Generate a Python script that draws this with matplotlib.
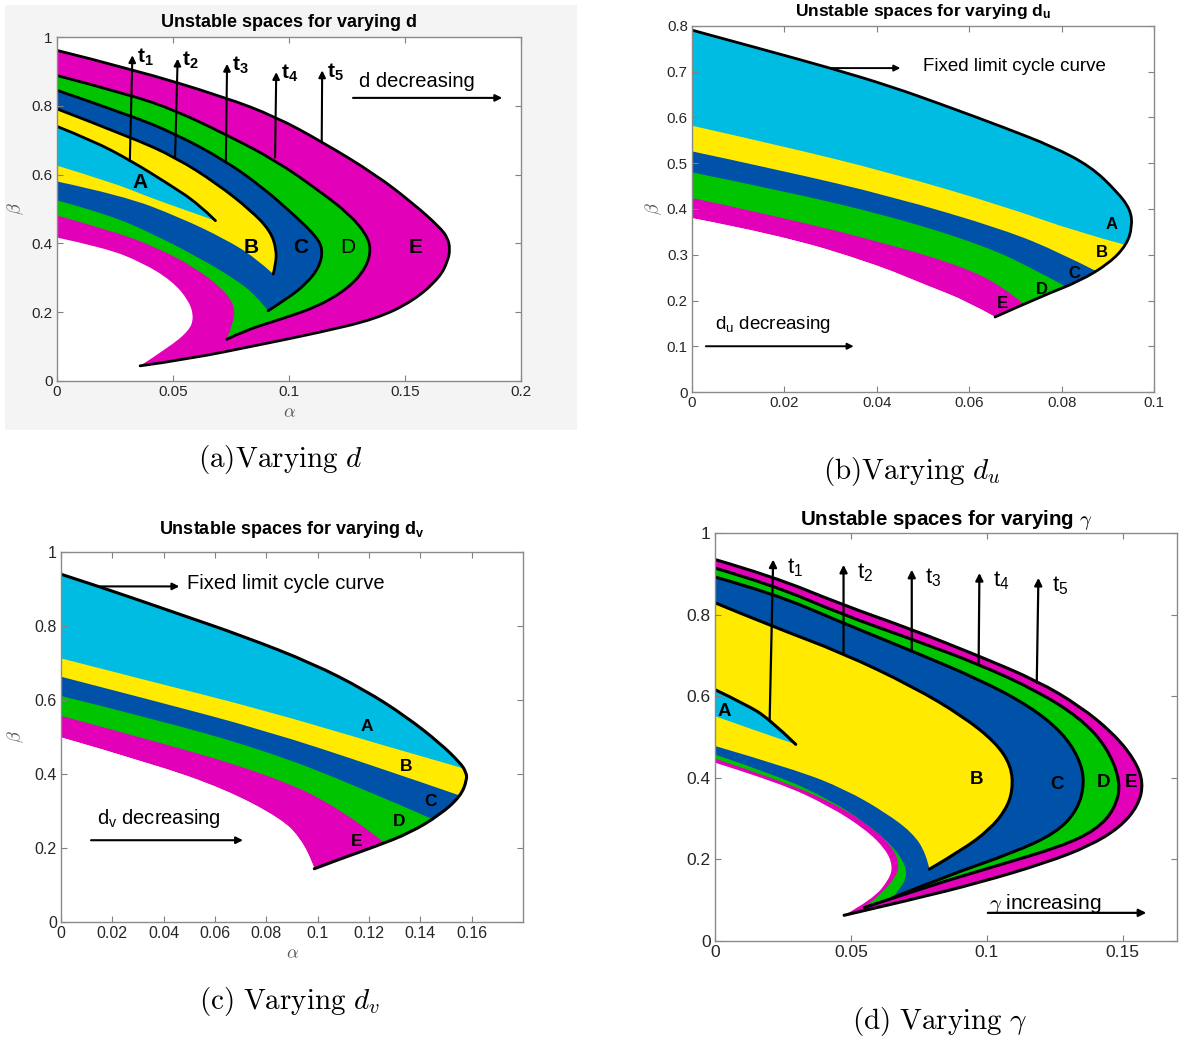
import matplotlib
matplotlib.use("Agg")
import matplotlib.pyplot as plt
from matplotlib.patches import Rectangle, PathPatch
from matplotlib.path import Path

plt.rcParams["font.family"] = ["Liberation Sans", "DejaVu Sans"]
plt.rcParams["mathtext.fontset"] = "custom"
plt.rcParams["mathtext.rm"] = "Liberation Sans"
plt.rcParams["mathtext.it"] = "Liberation Sans:italic"
plt.rcParams["mathtext.bf"] = "Liberation Sans:bold"

MAGENTA = "#e200b8"
GREEN = "#00c400"
BLUE = "#0052a8"
YELLOW = "#ffea00"
CYAN = "#00bce2"
REGION_COLORS = [MAGENTA, GREEN, BLUE, YELLOW, CYAN]   # E, D, C, B, A

# ---------------- data (alpha, beta) ----------------
# (a) varying d : each region = outer curve (top -> tip -> cusp) + inner curve (cusp -> alpha=0)
a_E_outer = [(0, 0.961), (0.0317, 0.908), (0.0724, 0.825), (0.0943, 0.768), (0.1138, 0.697),
             (0.1374, 0.600), (0.1537, 0.515), (0.165, 0.447), (0.1685, 0.415), (0.1694, 0.383),
             (0.1685, 0.35), (0.165, 0.301), (0.1537, 0.233), (0.1374, 0.180), (0.113, 0.141),
             (0.0886, 0.107), (0.0561, 0.063), (0.0358, 0.044)]
a_E_inner = [(0.0358, 0.044), (0.048, 0.097), (0.0569, 0.146), (0.059, 0.184), (0.0569, 0.233),
             (0.0496, 0.291), (0.0366, 0.345), (0.0203, 0.388), (0, 0.417)]
a_D_outer = [(0, 0.888), (0.0317, 0.832), (0.0512, 0.786), (0.0724, 0.718), (0.0943, 0.641),
             (0.113, 0.553), (0.126, 0.485), (0.1333, 0.427), (0.1354, 0.383), (0.1333, 0.330),
             (0.126, 0.272), (0.113, 0.218), (0.0967, 0.180), (0.0805, 0.146), (0.0732, 0.121)]
a_D_inner = [(0.0732, 0.121), (0.0764, 0.175), (0.0764, 0.223), (0.0707, 0.272), (0.0593, 0.330),
             (0.0431, 0.388), (0.0236, 0.437), (0, 0.481)]
a_C_outer = [(0, 0.845), (0.0317, 0.772), (0.0512, 0.718), (0.0724, 0.641), (0.0886, 0.563),
             (0.1033, 0.476), (0.1122, 0.417), (0.1146, 0.379), (0.113, 0.330), (0.1073, 0.282),
             (0.1, 0.243), (0.091, 0.204)]
a_C_inner = [(0.091, 0.204), (0.0854, 0.252), (0.0756, 0.301), (0.061, 0.359), (0.0431, 0.422),
             (0.022, 0.485), (0, 0.525)]
a_B_outer = [(0, 0.791), (0.0317, 0.709), (0.0512, 0.650), (0.0691, 0.573), (0.0837, 0.495),
             (0.0919, 0.437), (0.0946, 0.383), (0.0943, 0.340), (0.0932, 0.311)]
a_B_inner = [(0.0932, 0.311), (0.0854, 0.359), (0.0724, 0.413), (0.0528, 0.476), (0.0285, 0.539),
             (0, 0.580)]
a_A_outer = [(0, 0.74), (0.0154, 0.699), (0.0317, 0.641), (0.048, 0.573), (0.061, 0.515),
             (0.0683, 0.466)]
a_A_inner = [(0.0683, 0.466), (0.0561, 0.495), (0.0398, 0.534), (0.0236, 0.578), (0, 0.626)]
letters = ["A", "B", "C", "D", "E"]
a_letter_pos = [(0.0358, 0.578), (0.0837, 0.388), (0.1049, 0.388), (0.1252, 0.388), (0.1545, 0.388)]
a_arrow_start = [(0.0314, 0.641), (0.0509, 0.650), (0.0728, 0.641), (0.094, 0.650), (0.1141, 0.693)]
a_arrow_end = [(0.0325, 0.947), (0.052, 0.937), (0.0733, 0.922), (0.0945, 0.898), (0.1143, 0.903)]

# (b) varying d_u : shared limit cycle curve + band boundaries (alpha=0 -> curve)
b_outer = [(0, 0.791), (0.01453, 0.751), (0.030, 0.708), (0.0431, 0.668), (0.0553, 0.624),
           (0.0676, 0.578), (0.0782, 0.536), (0.0863, 0.493), (0.0920, 0.438), (0.0949, 0.399),
           (0.0953, 0.362), (0.0941, 0.322), (0.0904, 0.282), (0.0839, 0.242), (0.0758, 0.210),
           (0.0656, 0.164)]
b_bounds = [  # lower edges of cyan, yellow, blue, green, magenta
    [(0, 0.582), (0.0186, 0.540), (0.0431, 0.479), (0.0676, 0.406), (0.0839, 0.348), (0.0937, 0.322)],
    [(0, 0.526), (0.0186, 0.486), (0.0431, 0.428), (0.0676, 0.355), (0.0798, 0.304), (0.0875, 0.264)],
    [(0, 0.48), (0.0186, 0.442), (0.0431, 0.384), (0.0635, 0.319), (0.0741, 0.268), (0.081, 0.230)],
    [(0, 0.424), (0.0186, 0.384), (0.0431, 0.322), (0.0594, 0.271), (0.0676, 0.228), (0.0718, 0.192)],
    [(0, 0.38), (0.0186, 0.344), (0.039, 0.282), (0.0513, 0.231), (0.0594, 0.199), (0.0656, 0.164)],
]
b_letter_pos = [(0.0909, 0.366), (0.0888, 0.304), (0.0827, 0.260), (0.0758, 0.224), (0.0672, 0.193)]

# (c) varying d_v
c_outer = [(0, 0.940), (0.0161, 0.904), (0.0453, 0.834), (0.0716, 0.771), (0.098, 0.699),
           (0.1184, 0.627), (0.1345, 0.555), (0.1477, 0.483), (0.1557, 0.429), (0.1578, 0.405),
           (0.1582, 0.385), (0.1557, 0.340), (0.1477, 0.290), (0.136, 0.241), (0.1228, 0.205),
           (0.1082, 0.169), (0.0987, 0.144)]
c_bounds = [
    [(0, 0.7125), (0.0351, 0.650), (0.079, 0.573), (0.1228, 0.483), (0.1564, 0.416)],
    [(0, 0.663), (0.0351, 0.600), (0.079, 0.519), (0.1228, 0.42), (0.1557, 0.341)],
    [(0, 0.611), (0.0351, 0.551), (0.079, 0.465), (0.1155, 0.367), (0.1448, 0.278)],
    [(0, 0.557), (0.0351, 0.492), (0.079, 0.403), (0.1082, 0.313), (0.1262, 0.213)],
    [(0, 0.499), (0.0351, 0.429), (0.0643, 0.358), (0.0863, 0.277), (0.0936, 0.223), (0.098, 0.160),
     (0.0987, 0.144)],
]
c_letter_pos = [(0.119, 0.528), (0.1345, 0.42), (0.144, 0.326), (0.1316, 0.272), (0.115, 0.218)]

# (d) varying gamma
d_E_outer = [(0, 0.935), (0.0211, 0.894), (0.0469, 0.824), (0.0727, 0.763), (0.0973, 0.698),
             (0.1188, 0.637), (0.1342, 0.576), (0.1464, 0.510), (0.1544, 0.445), (0.1577, 0.388),
             (0.1557, 0.331), (0.1489, 0.278), (0.1378, 0.233), (0.1219, 0.192), (0.0973, 0.143),
             (0.0727, 0.102), (0.0475, 0.063)]
d_E_inner = [(0.0475, 0.063), (0.058, 0.102), (0.0641, 0.151), (0.0654, 0.184), (0.0629, 0.224),
             (0.0555, 0.273), (0.042, 0.331), (0.0236, 0.388), (0, 0.437)]
d_D_outer = [(0, 0.914), (0.0211, 0.873), (0.0469, 0.80), (0.0727, 0.739), (0.0973, 0.678),
             (0.1188, 0.612), (0.1342, 0.547), (0.144, 0.478), (0.1495, 0.388), (0.147, 0.322),
             (0.1403, 0.273), (0.128, 0.233), (0.1034, 0.184), (0.0789, 0.135), (0.0549, 0.082)]
d_D_inner = [(0.0549, 0.082), (0.0617, 0.118), (0.0666, 0.159), (0.0678, 0.184), (0.066, 0.224),
             (0.058, 0.278), (0.0445, 0.335), (0.0248, 0.392), (0, 0.447)]
d_C_outer = [(0, 0.892), (0.0211, 0.853), (0.0469, 0.780), (0.0727, 0.710), (0.0973, 0.641),
             (0.1157, 0.576), (0.128, 0.510), (0.1342, 0.445), (0.136, 0.388), (0.1335, 0.322),
             (0.1256, 0.265), (0.1096, 0.216), (0.085, 0.159), (0.0654, 0.106)]
d_C_inner = [(0.0654, 0.106), (0.0678, 0.127), (0.0703, 0.151), (0.0703, 0.184), (0.0654, 0.233),
             (0.0555, 0.290), (0.042, 0.347), (0.0236, 0.404), (0, 0.457)]
d_B_outer = [(0, 0.829), (0.0211, 0.771), (0.0469, 0.706), (0.0727, 0.624), (0.0912, 0.551),
             (0.1034, 0.486), (0.109, 0.429), (0.1096, 0.371), (0.1071, 0.322), (0.101, 0.273),
             (0.0912, 0.224), (0.0789, 0.176)]
d_B_inner = [(0.0789, 0.176), (0.0776, 0.216), (0.0727, 0.265), (0.0629, 0.314), (0.0482, 0.371),
             (0.0297, 0.420), (0, 0.478)]
d_A_outer = [(0, 0.616), (0.0113, 0.58), (0.0199, 0.545), (0.0297, 0.482)]
d_A_inner = [(0.0297, 0.482), (0.0174, 0.510), (0, 0.551)]
d_letter_pos = [(0.0033, 0.563), (0.0961, 0.396), (0.126, 0.384), (0.143, 0.388), (0.153, 0.388)]
d_arrow_start = [(0.0201, 0.539), (0.0473, 0.706), (0.0724, 0.710), (0.097, 0.678), (0.1184, 0.633)]
d_arrow_end = [(0.0214, 0.935), (0.0473, 0.922), (0.0724, 0.910), (0.0973, 0.902), (0.119, 0.890)]

t_labels = ["1", "2", "3", "4", "5"]


def curve(pts, first=True):
    # smooth path through the read points (quadratic Bezier pieces)
    verts, codes = [], []
    if first:
        verts.append(pts[0])
        codes.append(Path.MOVETO)
    if len(pts) == 2:
        return verts + [pts[1]], codes + [Path.LINETO]
    for i in range(1, len(pts) - 1):
        if i == len(pts) - 2:
            end = pts[i + 1]
        else:
            end = ((pts[i][0] + pts[i + 1][0]) / 2, (pts[i][1] + pts[i + 1][1]) / 2)
        verts += [pts[i], end]
        codes += [Path.CURVE3, Path.CURVE3]
    return verts, codes


def closed(*parts):
    verts, codes = [], []
    for k, pts in enumerate(parts):
        v, c = curve(pts, first=(k == 0))
        verts += v
        codes += c
    verts.append(verts[0])
    codes.append(Path.CLOSEPOLY)
    return Path(verts, codes)


def nested(ax, regions, lw):
    # regions ordered outermost first
    for (outer, inner), col in zip(regions, REGION_COLORS):
        ax.add_patch(PathPatch(closed(outer, inner), facecolor=col, edgecolor="none", lw=0))
    for outer, inner in regions:
        v, c = curve(outer)
        ax.add_patch(PathPatch(Path(v, c), facecolor="none", edgecolor="k", lw=lw,
                               capstyle="round", joinstyle="round"))


def banded(ax, outer, bounds, lw):
    shape = PathPatch(closed(outer, bounds[-1][::-1]), facecolor="none", edgecolor="none")
    ax.add_patch(shape)
    # paint from the bottom band (magenta) upward, everything clipped to the shape
    for bound, col in zip(bounds[::-1], REGION_COLORS):
        e = bound[-1]
        v, c = curve(bound)
        v += [(1.0, e[1]), (1.0, 2.0), (0, 2.0), v[0]]
        c += [Path.LINETO, Path.LINETO, Path.LINETO, Path.CLOSEPOLY]
        p = PathPatch(Path(v, c), facecolor=col, edgecolor="none", lw=0)
        ax.add_patch(p)
        p.set_clip_path(shape)
    v, c = curve(outer)
    ax.add_patch(PathPatch(Path(v, c), facecolor="none", edgecolor="k", lw=lw,
                           capstyle="round", joinstyle="round"))


def style(ax, xt, xl, yt, yl, size):
    ax.set_xticks(xt, xl)
    ax.set_yticks(yt, yl)
    ax.tick_params(direction="in", top=True, right=True, length=4, width=0.8,
                   color="#808080", labelcolor="#262626", labelsize=size, pad=3)
    for s in ax.spines.values():
        s.set_color("#8a8a8a")
        s.set_linewidth(1.0)


def arrow(ax, start, end, lw=1.6, ms=12):
    ax.annotate("", xy=end, xytext=start,
                arrowprops=dict(arrowstyle="-|>", color="k", lw=lw, mutation_scale=ms,
                                shrinkA=0, shrinkB=0))


W, H = 1180, 1040
fig = plt.figure(figsize=(W / 100, H / 100), dpi=100)


def axes_px(x0, y0, x1, y1):
    return fig.add_axes([x0 / W, 1 - y1 / H, (x1 - x0) / W, (y1 - y0) / H])


# light grey screenshot backdrop of panel (a)
fig.add_artist(Rectangle((5 / W, 1 - 430 / H), 572 / W, 425 / H, transform=fig.transFigure,
                         facecolor="#f4f4f4", edgecolor="none", zorder=-10))

# ---------------- (a) ----------------
ax = axes_px(57, 37, 521, 381)
nested(ax, [(a_E_outer, a_E_inner), (a_D_outer, a_D_inner), (a_C_outer, a_C_inner),
            (a_B_outer, a_B_inner), (a_A_outer, a_A_inner)], 2.0)
ax.set_xlim(0, 0.2)
ax.set_ylim(0, 1)
style(ax, [0, 0.05, 0.1, 0.15, 0.2], ["0", "0.05", "0.1", "0.15", "0.2"],
      [0, 0.2, 0.4, 0.6, 0.8, 1], ["0", "0.2", "0.4", "0.6", "0.8", "1"], 11)
for s, e, t in zip(a_arrow_start, a_arrow_end, t_labels):
    arrow(ax, s, e, lw=1.5, ms=10)
    ax.text(e[0] + 0.002, e[1] - 0.005, r"$\mathbf{t}_\mathbf{" + t + "}$", fontsize=15,
            ha="left", va="center")
for lab, (px, py) in zip(letters, a_letter_pos):
    ax.text(px, py, lab, fontsize=15, fontweight="normal" if lab == "D" else "bold",
            ha="center", va="center")
ax.text(0.130, 0.87, "d decreasing", fontsize=14.5, ha="left", va="center")
arrow(ax, (0.1276, 0.823), (0.1919, 0.823), lw=1.5, ms=10)
ax.set_title("Unstable spaces for varying d", fontsize=13, fontweight="bold", pad=7)
ax.set_xlabel(r"$\alpha$", math_fontfamily="cm", fontsize=13, color="#555555", labelpad=4)
ax.set_ylabel(r"$\beta$", math_fontfamily="cm", fontsize=13, color="#555555", labelpad=4)

# ---------------- (b) ----------------
ax = axes_px(692, 26, 1154, 392)
banded(ax, b_outer, b_bounds, 2.0)
ax.set_xlim(0, 0.1)
ax.set_ylim(0, 0.8)
style(ax, [0, 0.02, 0.04, 0.06, 0.08, 0.1], ["0", "0.02", "0.04", "0.06", "0.08", "0.1"],
      [0, 0.1, 0.2, 0.3, 0.4, 0.5, 0.6, 0.7, 0.8],
      ["0", "0.1", "0.2", "0.3", "0.4", "0.5", "0.6", "0.7", "0.8"], 10.8)
for lab, (px, py) in zip(letters, b_letter_pos):
    ax.text(px, py, lab, fontsize=12, fontweight="bold", ha="center", va="center")
arrow(ax, (0.030, 0.708), (0.0451, 0.708), lw=1.4, ms=9)
ax.text(0.050, 0.711, "Fixed limit cycle curve", fontsize=13.5, ha="left", va="center")
ax.text(0.005, 0.148, r"d$_\mathrm{u}$ decreasing", fontsize=13.5, ha="left", va="center")
arrow(ax, (0.003, 0.1), (0.035, 0.1), lw=1.4, ms=9)
ax.set_title(r"Unstable spaces for varying d$_\mathbf{u}$", fontsize=12.5, fontweight="bold", pad=7)
ax.set_ylabel(r"$\beta$", math_fontfamily="cm", fontsize=13, color="#555555", labelpad=2)

# ---------------- (c) ----------------
ax = axes_px(61, 552, 523, 922)
banded(ax, c_outer, c_bounds, 2.2)
ax.set_xlim(0, 0.18)
ax.set_ylim(0, 1)
style(ax, [0, 0.02, 0.04, 0.06, 0.08, 0.1, 0.12, 0.14, 0.16],
      ["0", "0.02", "0.04", "0.06", "0.08", "0.1", "0.12", "0.14", "0.16"],
      [0, 0.2, 0.4, 0.6, 0.8, 1], ["0", "0.2", "0.4", "0.6", "0.8", "1"], 11.5)
for lab, (px, py) in zip(letters, c_letter_pos):
    ax.text(px, py, lab, fontsize=12.5, fontweight="bold", ha="center", va="center")
arrow(ax, (0.0154, 0.907), (0.0461, 0.907), lw=1.5, ms=10)
ax.text(0.049, 0.915, "Fixed limit cycle curve", fontsize=14.5, ha="left", va="center")
ax.text(0.0139, 0.281, r"d$_\mathrm{v}$ decreasing", fontsize=14.5, ha="left", va="center")
arrow(ax, (0.0117, 0.221), (0.0709, 0.221), lw=1.5, ms=10)
ax.set_title(r"Unstable spaces for varying d$_\mathbf{v}$", fontsize=13, fontweight="bold", pad=13)
ax.set_xlabel(r"$\alpha$", math_fontfamily="cm", fontsize=13, color="#555555", labelpad=3)
ax.set_ylabel(r"$\beta$", math_fontfamily="cm", fontsize=13, color="#555555", labelpad=6)

# ---------------- (d) ----------------
ax = axes_px(715, 533, 1177, 941)
nested(ax, [(d_E_outer, d_E_inner), (d_D_outer, d_D_inner), (d_C_outer, d_C_inner),
            (d_B_outer, d_B_inner), (d_A_outer, d_A_inner)], 2.2)
ax.set_xlim(0, 0.17)
ax.set_ylim(0, 1)
style(ax, [0, 0.05, 0.1, 0.15], ["0", "0.05", "0.1", "0.15"],
      [0, 0.2, 0.4, 0.6, 0.8, 1], ["0", "0.2", "0.4", "0.6", "0.8", "1"], 12.5)
for s, e, t in zip(d_arrow_start, d_arrow_end, t_labels):
    arrow(ax, s, e, lw=1.6, ms=11)
    ax.text(e[0] + 0.005, e[1] - 0.02, r"$\mathrm{t}_\mathrm{" + t + "}$", fontsize=16,
            ha="left", va="center")
for lab, (px, py) in zip(letters, d_letter_pos):
    ax.text(px, py, lab, fontsize=13.5, fontweight="bold", ha="center", va="center")
ax.text(0.101, 0.09, r"$\gamma$ increasing", math_fontfamily="cm", fontsize=15,
        ha="left", va="center")
arrow(ax, (0.1004, 0.069), (0.1587, 0.069), lw=1.6, ms=11)
ax.set_title(r"Unstable spaces for varying $\gamma$", math_fontfamily="cm", fontsize=14.8,
             fontweight="bold", pad=6)

# ---------------- captions ----------------
cap = dict(math_fontfamily="cm", fontsize=21, ha="center", va="center")
fig.text(280 / W, 1 - 460 / H, r"$\mathrm{(a)Varying}\ d$", **cap)
fig.text(912 / W, 1 - 471 / H, r"$\mathrm{(b)Varying}\ d_u$", **cap)
fig.text(290 / W, 1 - 1002 / H, r"$\mathrm{(c)\ Varying}\ d_v$", **cap)
fig.text(940 / W, 1 - 1022 / H, r"$\mathrm{(d)\ Varying}\ \gamma$", **cap)

fig.savefig("out.png", dpi=100)
